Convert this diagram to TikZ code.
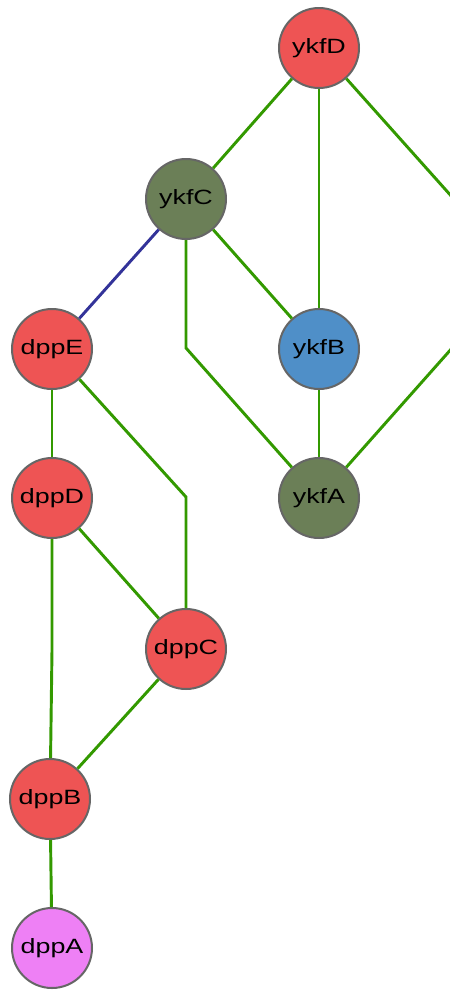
\documentclass[tikz,border=0pt]{standalone}
\usepackage{fontspec}
\setmainfont{Liberation Sans}
\newfontfamily\genefont[FakeStretch=1.3]{Liberation Sans}
\definecolor{nodered}{HTML}{EE5454}
\definecolor{nodeolive}{HTML}{6B7F57}
\definecolor{nodeblue}{HTML}{4F8FC8}
\definecolor{nodepink}{HTML}{EE80F5}
\definecolor{rimgray}{HTML}{666666}
\definecolor{edgegreen}{HTML}{339900}
\definecolor{edgenavy}{HTML}{333399}
\begin{document}
\begin{tikzpicture}[x=0.75pt,y=-0.75pt,
  gene/.style={circle,draw=rimgray,line width=1.5pt,minimum size=60pt,inner sep=0pt,
    font=\genefont\fontsize{15.5}{17}\selectfont},
  redgene/.style={gene,fill=nodered},
  olivegene/.style={gene,fill=nodeolive},
  bluegene/.style={gene,fill=nodeblue},
  pinkgene/.style={gene,fill=nodepink},
  link/.style={draw=edgegreen,line width=2.2pt},
  navylink/.style={draw=edgenavy,line width=2.2pt}]
\useasboundingbox (0,0) rectangle (450,990);
\clip (0,0) rectangle (450,990);
% genes
\node[redgene]   (ykfD) at (319,48)  {ykfD};
\node[olivegene] (ykfC) at (186,199) {ykfC};
\node[redgene]   (dppE) at (52,349)  {dppE};
\node[bluegene]  (ykfB) at (319,349) {ykfB};
\node[redgene]   (dppD) at (52,498)  {dppD};
\node[olivegene] (ykfA) at (319,498) {ykfA};
\node[redgene]   (dppC) at (186,649) {dppC};
\node[redgene]   (dppB) at (50,799)  {dppB};
\node[pinkgene]  (dppA) at (52,948)  {dppA};
% bend points of routed links
\coordinate (r1) at (453,198);
\coordinate (r2) at (453,347);
\coordinate (c1) at (186,348);
\coordinate (e1) at (186,497);
\coordinate (d1) at (52,650);
% links
\draw[link] (ykfD) -- (ykfC);
\draw[link] (ykfD) -- (ykfB);
\draw[link] (ykfD) -- (r1) -- (r2) -- (ykfA);
\draw[navylink] (ykfC) -- (dppE);
\draw[link] (ykfC) -- (ykfB);
\draw[link] (ykfC) -- (c1) -- (ykfA);
\draw[link] (ykfB) -- (ykfA);
\draw[link] (dppE) -- (dppD);
\draw[link] (dppE) -- (e1) -- (dppC);
\draw[link] (dppD) -- (dppC);
\draw[link] (dppD) -- (d1) -- (dppB);
\draw[link] (dppC) -- (dppB);
\draw[link] (dppB) -- (dppA);
\end{tikzpicture}
\end{document}
